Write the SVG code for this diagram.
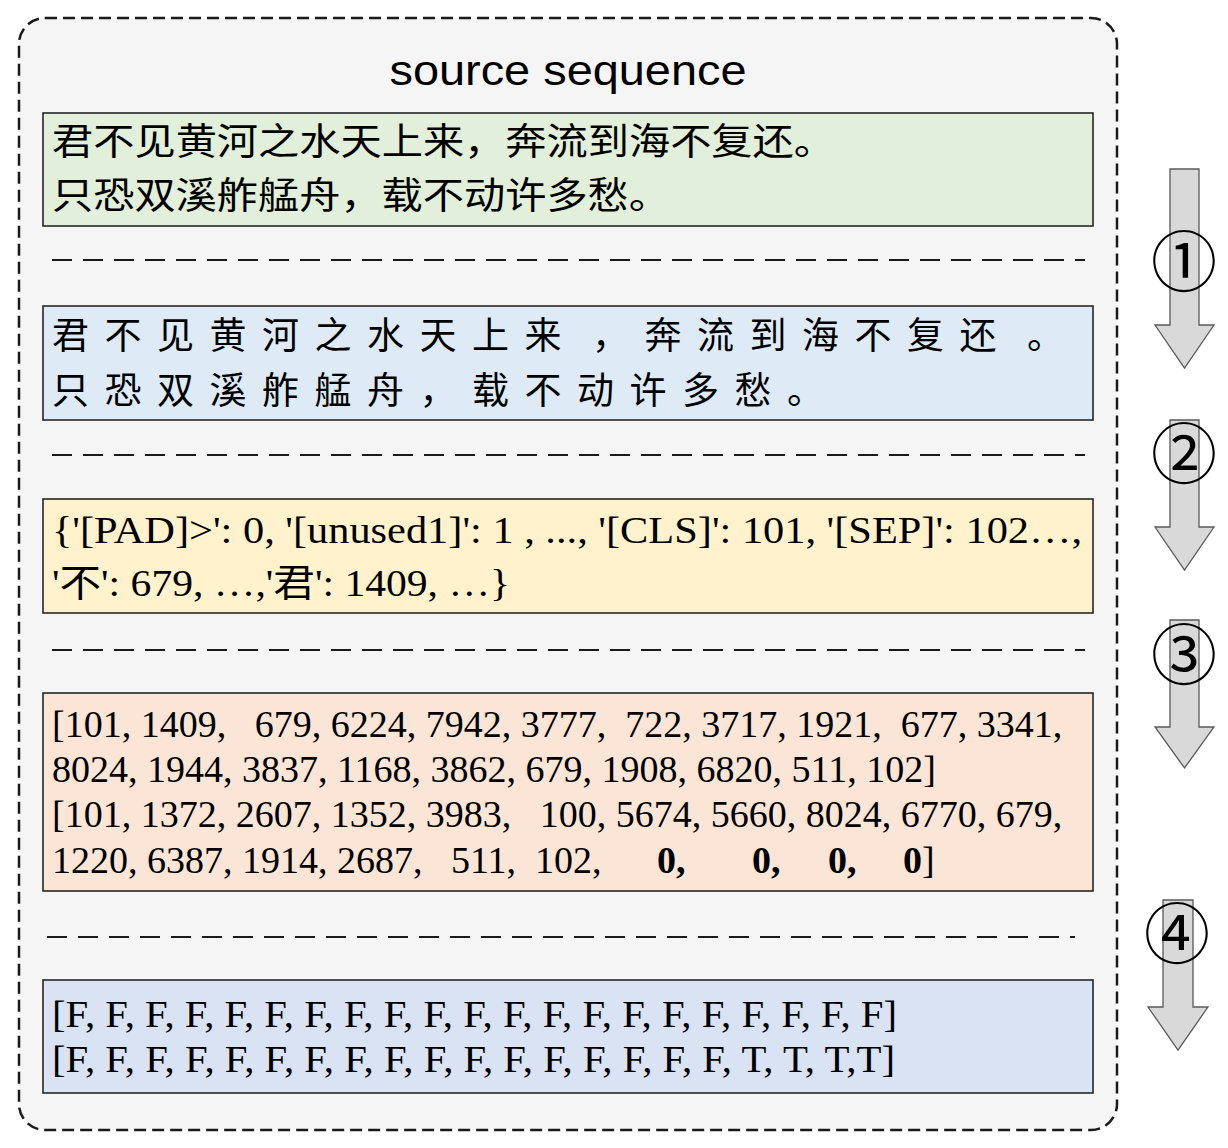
<svg xmlns="http://www.w3.org/2000/svg" width="1228" height="1148" viewBox="0 0 1228 1148">
<style>
.box{stroke:#262626;stroke-width:1.6}
.zh{font-family:"Noto Sans CJK SC",sans-serif;font-size:37px;fill:#000}
.tm{font-family:"Liberation Serif","Noto Sans CJK SC",serif;font-size:38px;fill:#000}
.sep{stroke:#1a1a1a;stroke-width:2;stroke-dasharray:20 11;fill:none}
.arr{fill:#d9d9d9;stroke:#595959;stroke-width:1.3}
.num{font-family:"Noto Sans CJK SC",sans-serif;font-size:66px;fill:#000;text-anchor:middle}
</style>
<rect x="19" y="18" width="1098" height="1112" rx="26" ry="26" fill="#f5f5f5" stroke="#1a1a1a" stroke-width="2.5" stroke-dasharray="12 6"/>
<text x="568" y="85" font-family="Liberation Sans,sans-serif" font-size="42" text-anchor="middle" textLength="357" lengthAdjust="spacingAndGlyphs">source sequence</text>

<g id="n1">
<rect class="box" x="43" y="113" width="1050" height="113" fill="#e2efda"/>
<text class="zh" x="52" y="155" textLength="783" lengthAdjust="spacingAndGlyphs">君不见黄河之水天上来，奔流到海不复还。</text>
<text class="zh" x="52" y="209" textLength="618" lengthAdjust="spacingAndGlyphs">只恐双溪舴艋舟，载不动许多愁。</text>
</g>
<g id="n2">
<rect class="box" x="43" y="306" width="1050" height="114" fill="#deebf7"/>
<text class="zh" x="52" y="349" letter-spacing="15.5">君不见黄河之水天上来<tspan dx="15">，</tspan>奔流到海不复还<tspan dx="15">。</tspan></text>
<text class="zh" x="52" y="404" letter-spacing="15.5">只恐双溪舴艋舟，载不动许多愁。</text>
</g>
<g id="n3">
<rect class="box" x="43" y="499" width="1050" height="114" fill="#fff2cc"/>
<text class="tm" x="52" y="543" font-size="41" textLength="1030" lengthAdjust="spacingAndGlyphs">{'[PAD]&gt;': 0, '[unused1]': 1 , ..., '[CLS]': 101, '[SEP]': 102…,</text>
<text class="tm" x="52" y="596" font-size="41" textLength="458" lengthAdjust="spacingAndGlyphs">'不': 679, …,'君': 1409, …}</text>
</g>
<g id="n4">
<rect class="box" x="43" y="693" width="1050" height="198" fill="#fbe5d6"/>
<text class="tm" x="52" y="737" xml:space="preserve">[101, 1409,   679, 6224, 7942, 3777,  722, 3717, 1921,  677, 3341,</text>
<text class="tm" x="52" y="782" xml:space="preserve">8024, 1944, 3837, 1168, 3862, 679, 1908, 6820, 511, 102]</text>
<text class="tm" x="52" y="827" xml:space="preserve">[101, 1372, 2607, 1352, 3983,   100, 5674, 5660, 8024, 6770, 679,</text>
<text class="tm" x="52" y="873" xml:space="preserve">1220, 6387, 1914, 2687,   511,  102,<tspan x="657" font-weight="bold">0,</tspan><tspan x="752" font-weight="bold">0,</tspan><tspan x="828" font-weight="bold">0,</tspan><tspan x="903" font-weight="bold">0</tspan>]</text>
</g>
<g id="n5">
<rect class="box" x="43" y="980" width="1050" height="113" fill="#dae3f3"/>
<text class="tm" x="52" y="1027" textLength="845" lengthAdjust="spacingAndGlyphs">[F, F, F, F, F, F, F, F, F, F, F, F, F, F, F, F, F, F, F, F, F]</text>
<text class="tm" x="52" y="1072" textLength="843" lengthAdjust="spacingAndGlyphs">[F, F, F, F, F, F, F, F, F, F, F, F, F, F, F, F, F, T, T, T,T]</text>
</g>

<g id="connectors">
<path class="sep" d="M52 260H1085"/>
<path class="sep" d="M52 455H1085"/>
<path class="sep" d="M52 650H1085"/>
<path class="sep" d="M47 937H1075"/>
</g>

<g id="step1">
<path class="arr" d="M1170 169H1199V325H1214L1184.5 368L1155 325H1170Z"/>
<text class="num" x="1184" y="286">①</text>
</g>
<g id="step2">
<path class="arr" d="M1170 420H1199V527H1214L1184.5 570L1155 527H1170Z"/>
<text class="num" x="1184" y="478">②</text>
</g>
<g id="step3">
<path class="arr" d="M1170 620H1199V727H1214L1184.5 768L1155 727H1170Z"/>
<text class="num" x="1184" y="679">③</text>
</g>
<g id="step4">
<path class="arr" d="M1163 900H1193V1007H1208L1178 1050L1148 1007H1163Z"/>
<text class="num" x="1177" y="958">④</text>
</g>
</svg>
